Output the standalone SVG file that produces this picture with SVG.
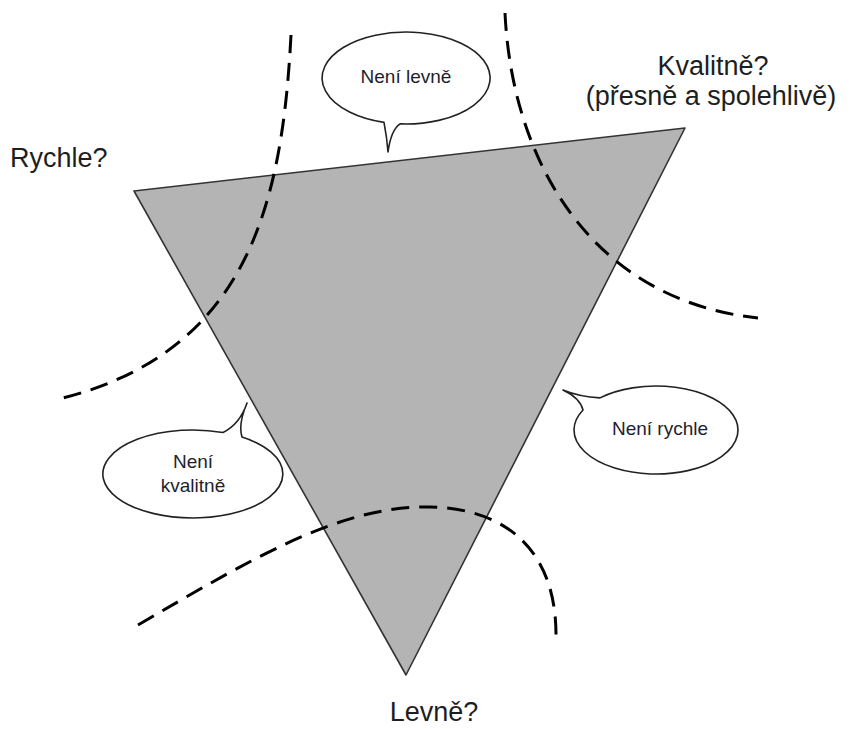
<svg xmlns="http://www.w3.org/2000/svg" width="851" height="729" viewBox="0 0 851 729">
<style>
.lbl{font-family:"Liberation Sans",Arial,sans-serif;font-size:27px;fill:#1e1e1e}
.btxt{font-family:"Liberation Sans",Arial,sans-serif;font-size:19px;fill:#1e1e2e;text-anchor:middle}
.dash{fill:none;stroke:#000;stroke-width:3;stroke-dasharray:18 10}
.bub{fill:#fff;stroke:#222;stroke-width:1.6;stroke-linejoin:round}
</style>
<rect width="851" height="729" fill="#fff"/>
<g id="triangle">
<polygon points="134,191 685,128 406,675" fill="#b4b4b4" stroke="#333" stroke-width="1.6" stroke-linejoin="round"/>
</g>
<g id="connectors">
<path class="dash" d="M291,35 C282,210 245,355 55,400"/>
<path class="dash" d="M505,13 C512,160 590,300 758,318"/>
<path class="dash" d="M138,625 C250,560 340,505 430,507 C500,508 556,545 556,635"/>
</g>
<g id="bubble-levne">
<path class="bub" d="M384,122.4 Q387,138 388,152 Q391,130 400,123.9 A84 46 0 1 0 384,122.4 Z"/>
<text class="btxt" x="406" y="83">Není levně</text>
</g>
<g id="bubble-kvalitne">
<path class="bub" d="M223,432.5 Q240,424 247,403 Q238,424 242,437.1 A90 44 0 1 1 223,432.5 Z"/>
<text class="btxt" x="193" y="468">Není</text>
<text class="btxt" x="193" y="492">kvalitně</text>
</g>
<g id="bubble-rychle">
<path class="bub" d="M600,397.9 Q580,397 563,390 Q580,398 583,410 A82 44 0 1 0 600,397.9 Z"/>
<text class="btxt" x="660" y="435">Není rychle</text>
</g>
<g id="label-rychle"><text class="lbl" x="10" y="167">Rychle?</text></g>
<g id="label-kvalitne">
<text class="lbl" x="713" y="75" text-anchor="middle">Kvalitně?</text>
<text class="lbl" x="711" y="105" text-anchor="middle">(přesně a spolehlivě)</text>
</g>
<g id="label-levne"><text class="lbl" x="434" y="721" text-anchor="middle">Levně?</text></g>
</svg>
